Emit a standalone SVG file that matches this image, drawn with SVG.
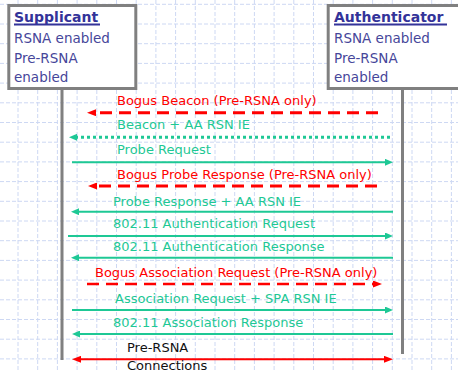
<svg xmlns="http://www.w3.org/2000/svg" width="458" height="372" viewBox="0 0 458 372">
<style>
.grid{stroke:#cdd8f3;stroke-width:1;stroke-dasharray:4,2;fill:none}
.box{fill:#fff;stroke:#808080;stroke-width:3}
.life{stroke:#808080;stroke-width:3}
.hd{font-family:"DejaVu Sans",Verdana,sans-serif;font-weight:bold;font-size:14px;fill:#333399}
.sub{font-family:"DejaVu Sans",Verdana,sans-serif;font-size:13.5px;fill:#46469a}
.msg{font-family:"DejaVu Sans",Verdana,sans-serif;font-size:13px}
.g{fill:#1ec895}
.r{fill:#ff0000}
.k{fill:#111}
.ga{stroke:#1ec895;stroke-width:2;fill:none;marker-end:url(#mg)}
.gd{stroke:#1ec895;stroke-width:3;stroke-dasharray:3,3;fill:none;marker-end:url(#mg)}
.rd{stroke:#ff0000;stroke-width:3;stroke-dasharray:12,7;fill:none;marker-end:url(#mr)}
.rr{stroke:#ff0000;stroke-width:2;fill:none;marker-end:url(#mr);marker-start:url(#mr)}
</style>
<defs>
<marker id="mg" viewBox="0 0 8 7" refX="3" refY="3.5" markerWidth="8" markerHeight="7" markerUnits="userSpaceOnUse" orient="auto-start-reverse"><path d="M0,0 L8,3.5 L0,7 z" fill="#1ec895"/></marker>
<marker id="mr" viewBox="0 0 9 7" refX="3" refY="3.5" markerWidth="9" markerHeight="7" markerUnits="userSpaceOnUse" orient="auto-start-reverse"><path d="M0,0 L9,3.5 L0,7 z" fill="#ff0000"/></marker>
</defs>
<rect width="458" height="372" fill="#fff"/>
<path class="grid" d="M18,0V372M37.7,0V372M57.4,0V372M77.1,0V372M96.8,0V372M116.5,0V372M136.2,0V372M155.9,0V372M175.6,0V372M195.3,0V372M215,0V372M234.7,0V372M254.4,0V372M274.1,0V372M293.8,0V372M313.5,0V372M333.2,0V372M352.9,0V372M372.6,0V372M392.3,0V372M412,0V372M431.7,0V372M451.4,0V372M0,4.3H458M0,24H458M0,43.7H458M0,63.4H458M0,83.1H458M0,102.8H458M0,122.5H458M0,142.2H458M0,161.9H458M0,181.6H458M0,201.3H458M0,221H458M0,240.7H458M0,260.4H458M0,280.1H458M0,299.8H458M0,319.5H458M0,339.2H458M0,358.9H458"/>
<g id="supplicant">
<line class="life" x1="62" y1="88" x2="62" y2="360"/>
<rect class="box" x="8.8" y="5.5" width="127" height="83"/>
<text class="hd" x="14" y="22">Supplicant</text>
<rect x="14" y="23.5" width="86" height="2" fill="#333399"/>
<text class="sub" x="14" y="43">RSNA enabled</text>
<text class="sub" x="14" y="63">Pre-RSNA</text>
<text class="sub" x="14" y="82">enabled</text>
</g>
<g id="authenticator">
<line class="life" x1="402.5" y1="88" x2="402.5" y2="354"/>
<rect class="box" x="328.2" y="5.5" width="140" height="83"/>
<text class="hd" x="334" y="22">Authenticator</text>
<rect x="334" y="23.5" width="113" height="2" fill="#333399"/>
<text class="sub" x="334" y="43">RSNA enabled</text>
<text class="sub" x="334" y="63">Pre-RSNA</text>
<text class="sub" x="334" y="82">enabled</text>
</g>
<g id="connectors">
<line class="rd" x1="378" y1="112.7" x2="93" y2="112.7"/>
<line class="gd" x1="390" y1="137.3" x2="74" y2="137.3"/>
<line class="ga" x1="72" y1="162.3" x2="388" y2="162.3"/>
<line class="rd" x1="377" y1="186" x2="94" y2="186"/>
<line class="ga" x1="393" y1="211.7" x2="76" y2="211.7"/>
<line class="ga" x1="68" y1="236" x2="388" y2="236"/>
<line class="ga" x1="393" y1="257.7" x2="76" y2="257.7"/>
<line class="rd" x1="87" y1="284" x2="376" y2="284" style="stroke-width:2.5"/>
<line class="ga" x1="72" y1="310" x2="388" y2="310"/>
<line class="ga" x1="393" y1="334" x2="77" y2="334"/>
<line class="rr" x1="78" y1="359.3" x2="387" y2="359.3"/>
</g>
<g id="labels">
<text class="msg r" x="117" y="105">Bogus Beacon (Pre-RSNA only)</text>
<text class="msg g" x="117" y="129">Beacon + AA RSN IE</text>
<text class="msg g" x="117" y="154">Probe Request</text>
<text class="msg r" x="117" y="179">Bogus Probe Response (Pre-RSNA only)</text>
<text class="msg g" x="113" y="206">Probe Response + AA RSN IE</text>
<text class="msg g" x="113" y="228">802.11 Authentication Request</text>
<text class="msg g" x="113" y="251">802.11 Authentication Response</text>
<text class="msg r" x="95" y="277">Bogus Association Request (Pre-RSNA only)</text>
<text class="msg g" x="115" y="303">Association Request + SPA RSN IE</text>
<text class="msg g" x="113" y="327">802.11 Association Response</text>
<text class="msg k" x="127" y="352">Pre-RSNA</text>
<text class="msg k" x="127" y="370">Connections</text>
</g>
</svg>
